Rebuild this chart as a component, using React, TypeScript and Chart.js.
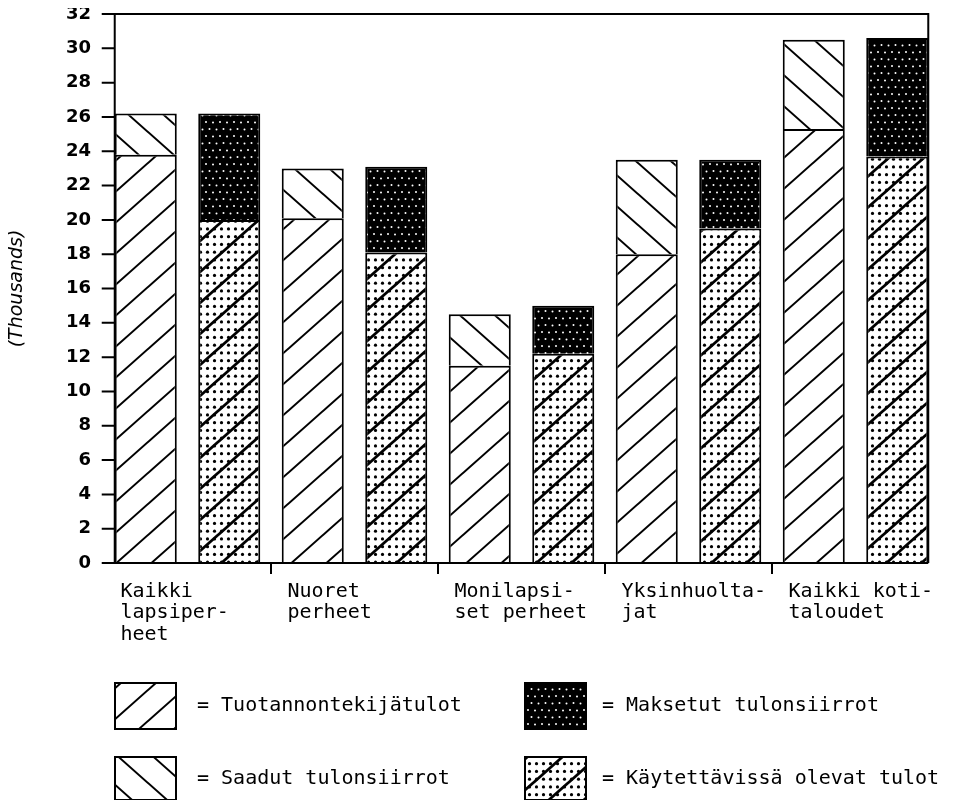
import { useEffect, useRef } from 'react';
import { Chart, registerables } from 'chart.js';

Chart.register(...registerables);

// ---- data ----
const categories: string[][] = [
  ['Kaikki', 'lapsiper-', 'heet'],
  ['Nuoret', 'perheet'],
  ['Monilapsi-', 'set perheet'],
  ['Yksinhuolta-', 'jat'],
  ['Kaikki koti-', 'taloudet'],
];
const seriesLabels = [
  'Tuotannontekijätulot',
  'Saadut tulonsiirrot',
  'Käytettävissä olevat tulot',
  'Maksetut tulonsiirrot',
];
const tuotannontekijatulot = [23.8, 20.1, 11.5, 18.0, 25.3];
const saadutTulonsiirrot = [2.4, 2.9, 3.0, 5.5, 5.2];
const kaytettavissaOlevatTulot = [20.0, 18.1, 12.2, 19.5, 23.7];
const maksetutTulonsiirrot = [6.2, 5.0, 2.8, 4.0, 6.9];
const yTicks = [0, 2, 4, 6, 8, 10, 12, 14, 16, 18, 20, 22, 24, 26, 28, 30, 32];
const yAxisTitle = '(Thousands)';

// ---- styles ----
const MONO = '"DejaVu Sans Mono", monospace';
const TILE_W = 35;
const TILE_H = 31;

function makePattern(w: number, h: number, draw: (g: CanvasRenderingContext2D) => void) {
  const c = document.createElement('canvas');
  c.width = w;
  c.height = h;
  const g = c.getContext('2d')!;
  draw(g);
  return g.createPattern(c, 'repeat')!;
}

function hatch(g: CanvasRenderingContext2D, w: number, h: number, forward: boolean, lw: number) {
  g.strokeStyle = '#000';
  g.lineWidth = lw;
  for (const k of [-1, 0, 1]) {
    g.beginPath();
    if (forward) {
      g.moveTo(k * w - w / 2, h + h / 2);
      g.lineTo((k + 1) * w + w / 2, -h / 2);
    } else {
      g.moveTo(k * w - w / 2, -h / 2);
      g.lineTo((k + 1) * w + w / 2, h + h / 2);
    }
    g.stroke();
  }
}

function buildPatterns() {
  const fwd = makePattern(TILE_W, TILE_H, (g) => {
    g.fillStyle = '#fff';
    g.fillRect(0, 0, TILE_W, TILE_H);
    hatch(g, TILE_W, TILE_H, true, 2);
  });
  const back = makePattern(TILE_W, TILE_H, (g) => {
    g.fillStyle = '#fff';
    g.fillRect(0, 0, TILE_W, TILE_H);
    hatch(g, TILE_W, TILE_H, false, 2);
  });
  const dotted = makePattern(TILE_W, TILE_H, (g) => {
    g.fillStyle = '#fff';
    g.fillRect(0, 0, TILE_W, TILE_H);
    g.fillStyle = '#000';
    for (let i = 0; i < 5; i++) {
      for (let j = 0; j < 4; j++) {
        g.beginPath();
        g.arc(i * 7 + 3.5, j * 7.75 + 3.9, 1.6, 0, Math.PI * 2);
        g.fill();
      }
    }
    hatch(g, TILE_W, TILE_H, true, 2.8);
  });
  const dark = makePattern(14, 14, (g) => {
    g.fillStyle = '#000';
    g.fillRect(0, 0, 14, 14);
    g.fillStyle = '#fff';
    const pts = [
      [2, 2],
      [9, 2.5],
      [5.5, 9],
      [12.5, 9.5],
    ];
    for (const [x, y] of pts) {
      g.beginPath();
      g.arc(x, y, 1, 0, Math.PI * 2);
      g.fill();
    }
  });
  return { fwd, back, dotted, dark };
}

const framePlugin = {
  id: 'frame',
  afterDatasetsDraw(chart: any) {
    const { ctx } = chart;
    const first = chart.getDatasetMeta(0).data[0];
    const last = chart.getDatasetMeta(3).data[categories.length - 1];
    if (!first || !last) return;
    const leftX = first.x - first.width / 2;
    const rightX = last.x + last.width / 2;
    const ys = chart.scales.y;
    const xs = chart.scales.x;
    const top = ys.getPixelForValue(yTicks[yTicks.length - 1]);
    const bottom = ys.getPixelForValue(0);
    ctx.save();
    ctx.strokeStyle = '#000';
    ctx.lineWidth = 2;
    ctx.beginPath();
    ctx.moveTo(leftX, bottom);
    ctx.lineTo(leftX, top);
    ctx.lineTo(rightX, top);
    ctx.lineTo(rightX, bottom);
    ctx.moveTo(leftX - 13, bottom);
    ctx.lineTo(rightX, bottom);
    for (const v of yTicks) {
      const p = ys.getPixelForValue(v);
      ctx.moveTo(leftX - 13, p);
      ctx.lineTo(leftX, p);
    }
    for (let i = 0; i < categories.length - 1; i++) {
      const p = (xs.getPixelForValue(i) + xs.getPixelForValue(i + 1)) / 2;
      ctx.moveTo(p, bottom);
      ctx.lineTo(p, bottom + 11);
    }
    ctx.stroke();
    ctx.restore();
  },
};

const legendLayout = [
  { ds: 0, col: 0, row: 0 },
  { ds: 3, col: 1, row: 0 },
  { ds: 1, col: 0, row: 1 },
  { ds: 2, col: 1, row: 1 },
];
const legendBoxX = [107, 517];
const legendTextX = [189, 594];
const legendBoxY = [675, 749];
const legendBoxH = [46, 43];
const legendTextY = [698, 771];
const legendBoxW = 61;

const legendPlugin = {
  id: 'patternLegend',
  afterDraw(chart: any) {
    const { ctx } = chart;
    ctx.save();
    for (const item of legendLayout) {
      const ds = chart.data.datasets[item.ds];
      const bx = legendBoxX[item.col];
      const by = legendBoxY[item.row];
      const bh = legendBoxH[item.row];
      ctx.fillStyle = ds.backgroundColor;
      ctx.fillRect(bx, by, legendBoxW, bh);
      ctx.strokeStyle = '#000';
      ctx.lineWidth = 2;
      ctx.strokeRect(bx, by, legendBoxW, bh);
      ctx.fillStyle = '#000';
      ctx.font = `20px ${MONO}`;
      ctx.textAlign = 'left';
      ctx.textBaseline = 'middle';
      ctx.fillText('= ' + ds.label, legendTextX[item.col], legendTextY[item.row]);
    }
    ctx.restore();
  },
};

export default function App() {
  const ref = useRef<HTMLCanvasElement | null>(null);

  useEffect(() => {
    if (!ref.current) return;
    const p = buildPatterns();
    const common = {
      borderColor: '#000',
      borderWidth: { top: 2, left: 2, right: 2, bottom: 0 },
      borderSkipped: false,
      barPercentage: 0.743,
      categoryPercentage: 1,
    };
    const chart = new Chart(ref.current, {
      type: 'bar',
      data: {
        labels: categories,
        datasets: [
          { label: seriesLabels[0], data: tuotannontekijatulot, stack: 'a', backgroundColor: p.fwd, ...common },
          { label: seriesLabels[1], data: saadutTulonsiirrot, stack: 'a', backgroundColor: p.back, ...common },
          { label: seriesLabels[2], data: kaytettavissaOlevatTulot, stack: 'b', backgroundColor: p.dotted, ...common },
          { label: seriesLabels[3], data: maksetutTulonsiirrot, stack: 'b', backgroundColor: p.dark, ...common },
        ] as any,
      },
      options: {
        animation: false,
        responsive: false,
        layout: { padding: { top: 6, right: 29, left: 0, bottom: 0 } },
        plugins: { legend: { display: false }, tooltip: { enabled: false } },
        scales: {
          x: {
            stacked: true,
            offset: true,
            grid: { display: false, drawTicks: false },
            border: { display: false },
            ticks: {
              color: '#000',
              font: { family: MONO, size: 20, lineHeight: 1.075 },
              align: 'start',
              labelOffset: -67,
              padding: 18,
              maxRotation: 0,
              autoSkip: false,
            },
            afterFit: (s: any) => {
              s.height = 237;
              s.paddingLeft = 0;
              s.paddingRight = 0;
            },
          },
          y: {
            stacked: true,
            min: 0,
            max: 32,
            grid: { display: false, drawTicks: false },
            border: { display: false },
            ticks: {
              color: '#000',
              font: { family: '"DejaVu Sans", sans-serif', size: 18, weight: 'bold' },
              padding: 13,
            },
            afterBuildTicks: (s: any) => {
              s.ticks = yTicks.map((v) => ({ value: v }));
            },
            title: {
              display: true,
              text: yAxisTitle,
              color: '#000',
              font: { family: '"DejaVu Sans", sans-serif', style: 'italic', size: 19, lineHeight: 1 },
              padding: 0,
            },
            afterFit: (s: any) => {
              s.width = 96;
              s.paddingTop = 0;
              s.paddingBottom = 0;
            },
          },
        },
      } as any,
      plugins: [framePlugin, legendPlugin],
    });
    return () => chart.destroy();
  }, []);

  return (
    <div style={{ width: 960, height: 792 }}>
      <canvas ref={ref} width={960} height={792} style={{ display: 'block' }} />
    </div>
  );
}
